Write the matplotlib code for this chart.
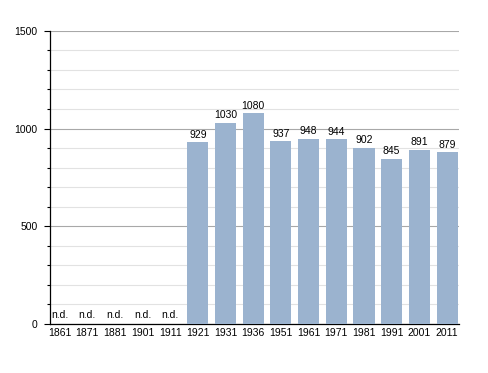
import matplotlib
matplotlib.use("Agg")
import matplotlib.pyplot as plt
import numpy as np

years = ["1861", "1871", "1881", "1901", "1911", "1921", "1931", "1936",
         "1951", "1961", "1971", "1981", "1991", "2001", "2011"]
values = [None, None, None, None, None, 929, 1030, 1080, 937, 948, 944, 902, 845, 891, 879]
yticks = [0, 500, 1000, 1500]

plt.rcParams['font.family'] = ['Liberation Sans', 'DejaVu Sans']
fig = plt.figure(figsize=(4.88, 3.73), dpi=100)
ax = fig.add_axes([0.1025, 0.1314, 0.838, 0.786])

x = np.arange(len(years))
color = "#9bb3cf"
for i, v in enumerate(values):
    if v is None:
        ax.text(i, 22, "n.d.", ha="center", va="bottom", fontsize=7.5)
    else:
        ax.bar(i, v, width=0.76, color=color, zorder=3)
        ax.text(i, v + 12, str(v), ha="center", va="bottom", fontsize=7.5, zorder=4)

ax.set_xlim(-0.34, len(years) - 0.57)
ax.set_ylim(0, 1500)
ax.set_xticks(x)
ax.set_xticklabels(years, fontsize=7.5)
ax.set_yticks(yticks)
ax.set_yticklabels([str(t) for t in yticks], fontsize=7.5)
ax.set_yticks(np.arange(0, 1501, 100), minor=True)
ax.tick_params(axis="x", length=0, pad=3)
ax.tick_params(axis="y", which="major", length=4.5, width=0.8, pad=4.5)
ax.tick_params(axis="y", which="minor", length=2, width=0.8)
ax.grid(axis="y", which="major", color="#a8a8a8", linewidth=0.8, zorder=0)
ax.grid(axis="y", which="minor", color="#e2e2e2", linewidth=0.8, zorder=0)
for s in ["top", "right"]:
    ax.spines[s].set_visible(False)
ax.spines["left"].set_linewidth(0.9)
ax.spines["bottom"].set_linewidth(0.9)
ax.set_axisbelow(True)

fig.savefig("out.png", dpi=100)
